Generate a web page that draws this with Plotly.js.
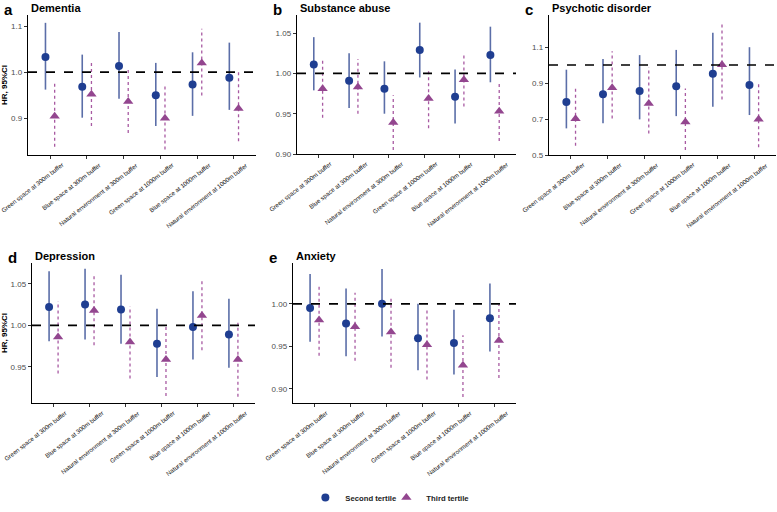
<!DOCTYPE html>
<html>
<head>
<meta charset="utf-8">
<script src="https://cdn.plot.ly/plotly-3.0.1.min.js"></script>
<style>html,body{margin:0;padding:0;background:#fff;}#chart{width:777px;height:512px;}</style>
</head>
<body>
<div id="chart"></div>
<script>
// ---- Data ----
const categories = ["Green space at 300m buffer", "Blue space at 300m buffer", "Natural environment at 300m buffer",
  "Green space at 1000m buffer", "Blue space at 1000m buffer", "Natural environment at 1000m buffer"];

const panelLetters = ["a", "b", "c", "d", "e"];
const panelTitles = ["Dementia", "Substance abuse", "Psychotic disorder", "Depression", "Anxiety"];
const legendNames = ["Second tertile", "Third tertile"];

// Second tertile: HR, lower CI, upper CI
const dementia2 = [1.033, 0.968, 1.013, 0.950, 0.973, 0.988];
const dementia2Lo = [0.962, 0.901, 0.942, 0.883, 0.905, 0.918];
const dementia2Hi = [1.107, 1.038, 1.087, 1.020, 1.043, 1.064];
const dementia3 = [0.904, 0.952, 0.936, 0.900, 1.020, 0.921];
const dementia3Lo = [0.838, 0.883, 0.868, 0.832, 0.949, 0.850];
const dementia3Hi = [0.975, 1.022, 1.007, 0.971, 1.094, 1.000];

const substance2 = [1.011, 0.991, 0.981, 1.029, 0.971, 1.023];
const substance2Lo = [0.979, 0.957, 0.950, 0.995, 0.938, 0.989];
const substance2Hi = [1.045, 1.025, 1.015, 1.063, 1.005, 1.058];
const substance3 = [0.981, 0.983, 0.939, 0.969, 0.992, 0.953];
const substance3Lo = [0.945, 0.950, 0.905, 0.932, 0.959, 0.916];
const substance3Hi = [1.018, 1.018, 0.973, 1.004, 1.024, 0.988];

const psychotic2 = [0.795, 0.837, 0.856, 0.882, 0.952, 0.889];
const psychotic2Lo = [0.648, 0.676, 0.698, 0.716, 0.768, 0.722];
const psychotic2Hi = [0.974, 1.034, 1.055, 1.084, 1.180, 1.099];
const psychotic3 = [0.701, 0.874, 0.786, 0.683, 1.001, 0.699];
const psychotic3Lo = [0.552, 0.703, 0.620, 0.528, 0.808, 0.543];
const psychotic3Hi = [0.874, 1.077, 0.988, 0.869, 1.235, 0.896];

const depression2 = [1.022, 1.025, 1.019, 0.978, 0.998, 0.989];
const depression2Lo = [0.981, 0.983, 0.978, 0.938, 0.959, 0.949];
const depression2Hi = [1.065, 1.068, 1.061, 1.020, 1.041, 1.032];
const depression3 = [0.986, 1.018, 0.980, 0.959, 1.012, 0.959];
const depression3Lo = [0.942, 0.976, 0.936, 0.915, 0.970, 0.914];
const depression3Hi = [1.029, 1.062, 1.023, 0.999, 1.053, 1.003];

const anxiety2 = [0.995, 0.977, 1.000, 0.9595, 0.954, 0.983];
const anxiety2Lo = [0.9555, 0.9385, 0.9615, 0.922, 0.917, 0.944];
const anxiety2Hi = [1.035, 1.018, 1.041, 1.000, 0.993, 1.024];
const anxiety3 = [0.981, 0.973, 0.967, 0.952, 0.928, 0.957];
const anxiety3Lo = [0.939, 0.933, 0.925, 0.911, 0.8905, 0.913];
const anxiety3Hi = [1.023, 1.013, 1.009, 0.9945, 0.963, 0.999];

const yTickVals = [
  [0.9, 1.0, 1.1],
  [0.90, 0.95, 1.00, 1.05],
  [0.5, 0.7, 0.9, 1.1],
  [0.95, 1.00, 1.05],
  [0.90, 0.95, 1.00]
];
const yTickText = [
  ["0.9", "1.0", "1.1"],
  ["0.90", "0.95", "1.00", "1.05"],
  ["0.5", "0.7", "0.9", "1.1"],
  ["0.95", "1.00", "1.05"],
  ["0.90", "0.95", "1.00"]
];

const series = [
  [dementia2, dementia2Lo, dementia2Hi, dementia3, dementia3Lo, dementia3Hi],
  [substance2, substance2Lo, substance2Hi, substance3, substance3Lo, substance3Hi],
  [psychotic2, psychotic2Lo, psychotic2Hi, psychotic3, psychotic3Lo, psychotic3Hi],
  [depression2, depression2Lo, depression2Hi, depression3, depression3Lo, depression3Hi],
  [anxiety2, anxiety2Lo, anxiety2Hi, anxiety3, anxiety3Lo, anxiety3Hi]
];

// ---- Layout geometry (pixels) ----
const W = 777, H = 512;
const boxes = [
  {x0: 28, x1: 256, y0: 15, y1: 155, yr: [0.82, 1.124], ytitle: true},
  {x0: 297, x1: 516, y0: 15, y1: 154, yr: [0.90, 1.0725], ytitle: false},
  {x0: 549, x1: 776, y0: 15, y1: 155, yr: [0.5, 1.278], ytitle: false},
  {x0: 32, x1: 255, y0: 263, y1: 403, yr: [0.9066, 1.075], ytitle: true},
  {x0: 293, x1: 516, y0: 263, y1: 403, yr: [0.8835, 1.048], ytitle: false}
];
const dodge = 0.125;
const blueDot = "#1f3e91", blueLine = "#5b6ea8";
const purpleDot = "#93468f", purpleLine = "#a85aa2";

const traces = [];
const layout = {
  width: W, height: H,
  margin: {l: 0, r: 0, t: 0, b: 0},
  paper_bgcolor: "#fff", plot_bgcolor: "#fff",
  font: {family: "Liberation Sans, Arial, sans-serif", color: "#333"},
  showlegend: true,
  legend: {orientation: "h", x: 0.393, y: 0, xanchor: "left", yanchor: "bottom",
    font: {size: 7.7, color: "#222", weight: "bold"}, bgcolor: "rgba(0,0,0,0)", itemwidth: 30,
    entrywidth: 36, entrywidthmode: "pixels"},
  shapes: [], annotations: []
};

const idx = categories.map((c, i) => i);

boxes.forEach((b, p) => {
  const n = p + 1;
  const xa = n === 1 ? "x" : "x" + n;
  const ya = n === 1 ? "y" : "y" + n;
  const [v2, lo2, hi2, v3, lo3, hi3] = series[p];
  const x2 = idx.map(i => i - dodge), x3 = idx.map(i => i + dodge);
  // CI lines
  const segX2 = [], segY2 = [], segX3 = [], segY3 = [];
  idx.forEach(i => {
    segX2.push(x2[i], x2[i], null); segY2.push(lo2[i], hi2[i], null);
    segX3.push(x3[i], x3[i], null); segY3.push(lo3[i], hi3[i], null);
  });
  traces.push({x: segX2, y: segY2, xaxis: xa, yaxis: ya, mode: "lines", type: "scatter",
    line: {color: blueLine, width: 1.6}, showlegend: false, hoverinfo: "skip"});
  traces.push({x: segX3, y: segY3, xaxis: xa, yaxis: ya, mode: "lines", type: "scatter",
    line: {color: purpleLine, width: 1.3, dash: "dot"}, showlegend: false, hoverinfo: "skip"});
  traces.push({x: x2, y: v2, xaxis: xa, yaxis: ya, mode: "markers", type: "scatter",
    name: legendNames[0], legendgroup: "s", showlegend: p === 0,
    marker: {color: blueDot, size: 8, symbol: "circle"}});
  traces.push({x: x3, y: v3, xaxis: xa, yaxis: ya, mode: "markers", type: "scatter",
    name: legendNames[1], legendgroup: "t", showlegend: p === 0,
    marker: {color: purpleDot, size: 9, symbol: "triangle-up"}});

  const axBase = {showgrid: false, zeroline: false, showline: true, linecolor: "#000", linewidth: 1.3,
    ticks: "outside", ticklen: 3, tickcolor: "#333", tickwidth: 1};
  layout[n === 1 ? "xaxis" : "xaxis" + n] = Object.assign({}, axBase, {
    domain: [b.x0 / W, b.x1 / W], anchor: ya, range: [-0.6, 5.6],
    tickvals: idx, showticklabels: false
  });
  layout[n === 1 ? "yaxis" : "yaxis" + n] = Object.assign({}, axBase, {
    domain: [1 - b.y1 / H, 1 - b.y0 / H], anchor: xa, range: b.yr,
    tickvals: yTickVals[p], ticktext: yTickText[p],
    tickfont: {size: 8, color: "#4d4d4d"},
    title: b.ytitle ? {text: "HR, 95%CI", font: {size: 8, color: "#000", weight: "bold"}, standoff: 4} : undefined
  });
  // rotated category labels, anchored at each category tick
  idx.forEach(i => {
    layout.annotations.push({xref: xa, yref: ya + " domain", x: i, y: 0, xanchor: "right", yanchor: "top",
      xshift: 16, yshift: -5, textangle: -38, showarrow: false, text: categories[i],
      font: {size: 6.2, color: "#111"}, borderpad: 0});
  });
  layout.shapes.push({type: "line", xref: xa + " domain", yref: ya, x0: 0, x1: 1, y0: 1, y1: 1,
    line: {color: "#000", width: 1.6, dash: "dash"}});
  layout.annotations.push({xref: "paper", yref: "paper", x: (b.x0 - 26) / W, y: 1 - (b.y0 - 6) / H,
    xanchor: "left", yanchor: "middle", showarrow: false, text: "<b>" + panelLetters[p] + "</b>",
    font: {size: 15, color: "#000"}});
  layout.annotations.push({xref: "paper", yref: "paper", x: (b.x0 + 1) / W, y: 1 - (b.y0 - 7) / H,
    xanchor: "left", yanchor: "middle", showarrow: false, text: "<b>" + panelTitles[p] + "</b>",
    font: {size: 11, color: "#000"}});
});

// invisible spacer entry so the last legend label is not clipped
traces.push({x: [null], y: [null], mode: "markers", type: "scatter", name: " ",
  marker: {color: "rgba(0,0,0,0)", size: 1, opacity: 0}, showlegend: true, hoverinfo: "skip"});

Plotly.newPlot("chart", traces, layout, {displayModeBar: false, staticPlot: true});
</script>
</body>
</html>
